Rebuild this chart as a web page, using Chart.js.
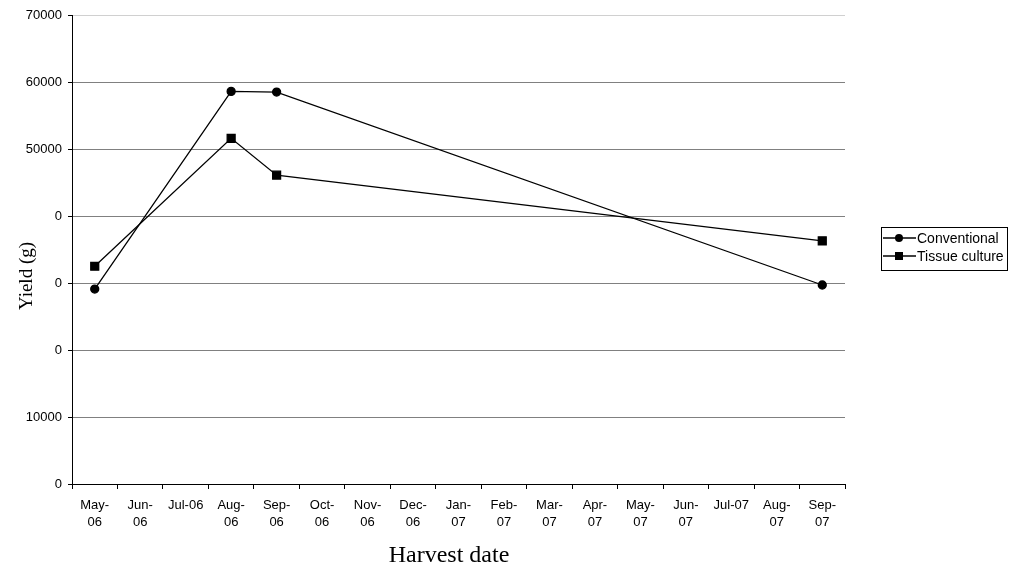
<!DOCTYPE html>
<html>
<head>
<meta charset="utf-8">
<script src="https://cdn.jsdelivr.net/npm/chart.js@4/dist/chart.umd.min.js"></script>
<style>
  html, body { margin: 0; padding: 0; background: #fff; }
  #wrap { width: 1010px; height: 569px; }
</style>
</head>
<body>
<div id="wrap"><canvas id="yieldChart" width="1010" height="569"></canvas></div>
<script>
// categories (harvest months), null = no harvest that month
const months = [
  ['May-', '06'], ['Jun-', '06'], 'Jul-06', ['Aug-', '06'], ['Sep-', '06'],
  ['Oct-', '06'], ['Nov-', '06'], ['Dec-', '06'], ['Jan-', '07'], ['Feb-', '07'],
  ['Mar-', '07'], ['Apr-', '07'], ['May-', '07'], ['Jun-', '07'], 'Jul-07',
  ['Aug-', '07'], ['Sep-', '07']
];
const conventional = [29100, null, null, 58600, 58500, null, null, null, null, null, null, null, null, null, null, null, 29700];
const tissueCulture = [32500, null, null, 51600, 46100, null, null, null, null, null, null, null, null, null, null, null, 36300];
const seriesNames = ['Conventional', 'Tissue culture'];
const yTicks = [0, 10000, 20000, 30000, 40000, 50000, 60000, 70000];

// axis titles; the y title sits on a white box that hides some tick labels, like the original
const axisTitles = {
  id: 'axisTitles',
  afterDraw(chart) {
    const ctx = chart.ctx;
    ctx.save();
    ctx.fillStyle = '#fff';
    ctx.fillRect(0, 210, 55, 150);
    ctx.fillStyle = '#000';
    ctx.textAlign = 'center';
    ctx.textBaseline = 'alphabetic';
    ctx.font = '24px "Liberation Serif", "Times New Roman", serif';
    ctx.fillText('Harvest date', 449, 562);
    ctx.translate(32, 276);
    ctx.rotate(-Math.PI / 2);
    ctx.font = '19px "Liberation Serif", "Times New Roman", serif';
    ctx.fillText('Yield (g)', 0, 0);
    ctx.restore();
  }
};

// boxed legend with line + marker symbols
const boxLegend = {
  id: 'boxLegend',
  afterDraw(chart) {
    const ctx = chart.ctx;
    ctx.save();
    ctx.strokeStyle = '#000';
    ctx.lineWidth = 1;
    ctx.strokeRect(881.5, 227.5, 126, 43);
    ctx.font = '14px "Liberation Sans", Arial, sans-serif';
    ctx.textBaseline = 'middle';
    chart.data.datasets.forEach((ds, i) => {
      const y = 238 + i * 18;
      ctx.beginPath();
      ctx.moveTo(883, y);
      ctx.lineTo(916, y);
      ctx.lineWidth = 1.3;
      ctx.stroke();
      ctx.fillStyle = '#000';
      if (ds.pointStyle === 'rect') {
        ctx.fillRect(895, y - 4, 8, 8);
      } else {
        ctx.beginPath();
        ctx.arc(899, y, 4, 0, Math.PI * 2);
        ctx.fill();
      }
      ctx.fillText(ds.label, 917, y + 1);
    });
    ctx.restore();
  }
};

new Chart(document.getElementById('yieldChart'), {
  type: 'line',
  data: {
    labels: months,
    datasets: [
      {
        label: seriesNames[0],
        data: conventional,
        borderColor: '#000',
        backgroundColor: '#000',
        borderWidth: 1.3,
        pointStyle: 'circle',
        pointRadius: 4,
        pointHoverRadius: 4,
        spanGaps: true,
        tension: 0
      },
      {
        label: seriesNames[1],
        data: tissueCulture,
        borderColor: '#000',
        backgroundColor: '#000',
        borderWidth: 1.3,
        pointStyle: 'rect',
        pointRadius: 5.6,
        pointHoverRadius: 5.6,
        spanGaps: true,
        tension: 0
      }
    ]
  },
  options: {
    responsive: false,
    animation: false,
    layout: { padding: { left: 0, right: 165, top: 15, bottom: 0 } },
    plugins: {
      legend: { display: false },
      tooltip: { enabled: false }
    },
    scales: {
      x: {
        offset: true,
        border: { color: '#000', width: 1 },
        grid: {
          display: true,
          drawOnChartArea: false,
          tickLength: 5,
          tickColor: '#000',
          offset: true
        },
        ticks: {
          color: '#000',
          autoSkip: false,
          maxRotation: 0,
          padding: 8,
          font: { family: '"Liberation Sans", Arial, sans-serif', size: 13, lineHeight: 1.3 }
        },
        afterFit(scale) { scale.height = 85; }
      },
      y: {
        min: 0,
        max: 70000,
        border: { color: '#000', width: 1 },
        grid: {
          color: ctx => ctx.tick && ctx.tick.value === 70000 ? '#d0d0d0' : '#808080',
          lineWidth: 1,
          tickLength: 4,
          tickColor: '#000'
        },
        afterBuildTicks(scale) { scale.ticks = yTicks.map(v => ({ value: v })); },
        ticks: {
          color: '#000',
          padding: 6,
          callback: v => String(v),
          font: { family: '"Liberation Sans", Arial, sans-serif', size: 13 }
        },
        afterFit(scale) { scale.width = 72; }
      }
    }
  },
  plugins: [axisTitles, boxLegend]
});
</script>
</body>
</html>
